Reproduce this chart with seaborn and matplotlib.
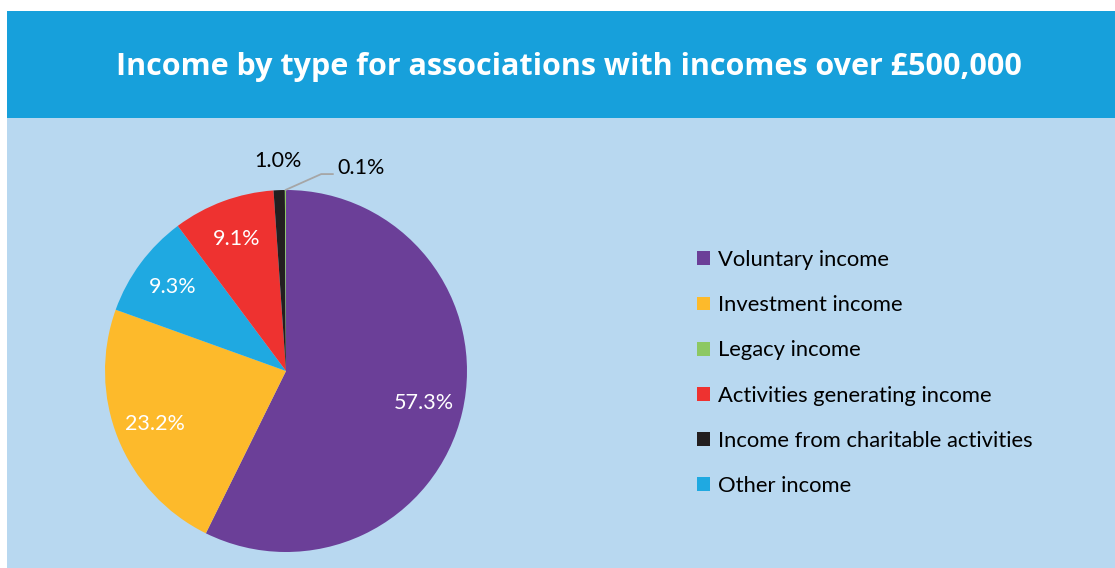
import numpy as np
import matplotlib
matplotlib.use("Agg")
import matplotlib.pyplot as plt
from matplotlib.patches import Rectangle, Patch
import seaborn as sns

sns.set_style("white")
plt.rcParams["font.family"] = ["Lato", "DejaVu Sans"]

title = "Income by type for associations with incomes over £500,000"

# slices, in clockwise order from 12 o'clock
slice_labels = ["Voluntary income", "Investment income", "Other income",
                "Activities generating income", "Income from charitable activities",
                "Legacy income"]
slice_values = [57.3, 23.2, 9.3, 9.1, 1.0, 0.1]

legend_order = ["Voluntary income", "Investment income", "Legacy income",
                "Activities generating income", "Income from charitable activities",
                "Other income"]

palette = {
    "Voluntary income": "#6B3F98",
    "Investment income": "#FDBA2B",
    "Legacy income": "#8DC863",
    "Activities generating income": "#EE3230",
    "Income from charitable activities": "#231F20",
    "Other income": "#1FA9E1",
}

fig = plt.figure(figsize=(11.15, 5.68), dpi=100)
fig.patch.set_facecolor("white")

# background panels
W, H = 1115, 568
fig.patches.append(Rectangle((7 / W, 0), 1, (H - 118) / H, transform=fig.transFigure,
                             facecolor="#B8D8F0", edgecolor="none", zorder=-10))
fig.patches.append(Rectangle((7 / W, (H - 118) / H), 1, 107 / H, transform=fig.transFigure,
                             facecolor="#17A0DB", edgecolor="none", zorder=-10))
fig.text(569 / W, 1 - 67 / H, title, color="white", fontsize=22, fontweight="bold",
         family=["Open Sans", "DejaVu Sans"], ha="center", va="center")

ax = fig.add_axes([(286 - 181) / W, (H - 552) / H, 362 / W, 362 / H], zorder=2)
ax.set_facecolor("none")

colors = [palette[l] for l in slice_labels]
wedges, _ = ax.pie(slice_values, colors=colors, startangle=90, counterclock=False,
                   radius=1.0, wedgeprops=dict(linewidth=0))
ax.set_xlim(-1, 1)
ax.set_ylim(-1, 1)
ax.set_aspect("equal")
ax.axis("off")

for w, v in zip(wedges, slice_values):
    mid = np.deg2rad((w.theta1 + w.theta2) / 2)
    txt = f"{v:.1f}%"
    if v >= 5:
        r = 0.78
        ax.text(r * np.cos(mid), r * np.sin(mid), txt, color="white",
                fontsize=15.5, ha="center", va="center")
    elif v >= 0.5:
        r = 1.16
        ax.text(r * np.cos(mid), r * np.sin(mid), txt, color="black",
                fontsize=15.5, ha="center", va="center")
    else:
        # leader line, then the label just to the right of its end
        ax.annotate("", xy=(np.cos(mid), np.sin(mid)), xytext=(0.26, 1.088),
                    annotation_clip=False,
                    arrowprops=dict(arrowstyle="-", color="#A6A6A6", lw=1.3,
                                    shrinkA=0, shrinkB=0,
                                    connectionstyle="angle,angleA=0,angleB=24,rad=0"))
        ax.text(0.282, 1.12, txt, color="black", fontsize=15.5, ha="left", va="center")

handles = [Patch(facecolor=palette[l], edgecolor="none") for l in legend_order]
leg = fig.legend(handles, legend_order, loc="upper left",
                 bbox_to_anchor=(697 / W, 1 - 250 / H),
                 frameon=False, fontsize=15.8, handlelength=0.6, handleheight=0.6,
                 handletextpad=0.35, labelspacing=1.15, borderaxespad=0, borderpad=0)
for t in leg.get_texts():
    t.set_color("black")

fig.savefig("out.png", dpi=100, facecolor=fig.get_facecolor())
